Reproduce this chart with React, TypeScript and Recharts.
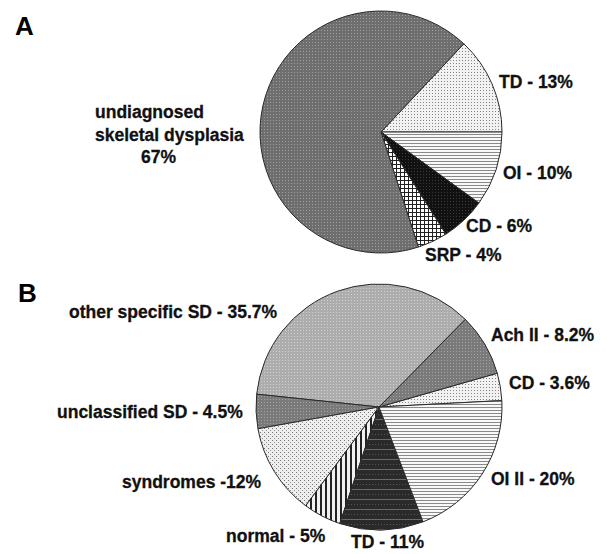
import React from 'react';
import { PieChart, Pie, Cell } from 'recharts';

// panel A
const aNames = ['TD', 'OI', 'CD', 'SRP', 'undiagnosed skeletal dysplasia'];
const aValues = [13, 10, 6, 4, 67];
const aLabels = [['TD - 13%'], ['OI - 10%'], ['CD - 6%'], ['SRP - 4%'], ['undiagnosed', 'skeletal dysplasia', '67%']];

// panel B
const bNames = ['CD', 'Ach II', 'other specific SD', 'unclassified SD', 'syndromes', 'normal', 'TD', 'OI II'];
const bValues = [3.6, 8.2, 35.7, 4.5, 12, 5, 11, 20];
const bLabels = [
  ['CD - 3.6%'],
  ['Ach II - 8.2%'],
  ['other specific SD - 35.7%'],
  ['unclassified SD - 4.5%'],
  ['syndromes -12%'],
  ['normal - 5%'],
  ['TD - 11%'],
  ['OI II - 20%'],
];

// label placement (left x, middle y for each line)
const aLabelPos = [[[499, 82]], [[503, 173]], [[466, 226]], [[425, 255]], [[95, 112], [95, 135], [141, 157]]];
const bLabelPos = [[[509, 383]], [[491, 335]], [[69, 312]], [[57, 412]], [[122, 482]], [[226, 536]], [[351, 542]], [[491, 479]]];

const aFills = ['pLightDots', 'pHLines', 'pBlack', 'pGrid', 'pDark'];
const bFills = ['pLightDots', 'pMidDark', 'pMid', 'pMidDark', 'pLightDots2', 'pVLines', 'pBands', 'pHLines'];

const aData = aNames.map((name, i) => ({ name, value: aValues[i] }));
const bData = bNames.map((name, i) => ({ name, value: bValues[i] }));

const font = '"Liberation Sans", Arial, sans-serif';

const makeLabel = (lines: string[][], pos: number[][][]) => (props: any) => {
  const i = props.index;
  return (
    <text
      key={i}
      fontFamily={font}
      fontWeight="bold"
      fontSize={17.5}
      fill="#111"
      stroke="#111"
      strokeWidth={0.3}
      textAnchor="start"
    >
      {lines[i].map((t, k) => (
        <tspan key={k} x={pos[i][k][0]} y={pos[i][k][1] + 6}>
          {t}
        </tspan>
      ))}
    </text>
  );
};

const App: React.FC = () => {
  return (
    <div style={{ position: 'absolute', left: 0, top: 0, width: 607, height: 554, background: '#fff' }}>
      <div style={{ position: 'absolute', left: 15, top: 11, fontFamily: font, fontWeight: 'bold', fontSize: 26 }}>A</div>
      <div style={{ position: 'absolute', left: 18, top: 278, fontFamily: font, fontWeight: 'bold', fontSize: 26 }}>B</div>
      <PieChart width={607} height={554} margin={{ top: 0, right: 0, bottom: 0, left: 0 }}>
        <defs>
          <pattern id="pDark" width="3" height="3" patternUnits="userSpaceOnUse">
            <rect width="3" height="3" fill="#6e6e6e" />
            <rect width="1" height="1" fill="#a0a0a0" />
          </pattern>
          <pattern id="pMid" width="3" height="3" patternUnits="userSpaceOnUse">
            <rect width="3" height="3" fill="#adadad" />
            <rect width="1" height="1" fill="#d2d2d2" />
          </pattern>
          <pattern id="pMidDark" width="3" height="3" patternUnits="userSpaceOnUse">
            <rect width="3" height="3" fill="#7a7a7a" />
            <rect width="1" height="1" fill="#a4a4a4" />
          </pattern>
          <pattern id="pLightDots" width="3" height="3" patternUnits="userSpaceOnUse">
            <rect width="3" height="3" fill="#f2f2f2" />
            <rect width="1" height="1" fill="#838383" />
          </pattern>
          <pattern id="pLightDots2" width="4" height="4" patternUnits="userSpaceOnUse">
            <rect width="4" height="4" fill="#eeeeee" />
            <rect width="1" height="1" fill="#707070" />
            <rect x="2" y="2" width="1" height="1" fill="#909090" />
          </pattern>
          <pattern id="pHLines" width="4" height="3" patternUnits="userSpaceOnUse">
            <rect width="4" height="3" fill="#f8f8f8" />
            <rect y="2" width="4" height="1" fill="#8a8a8a" />
          </pattern>
          <pattern id="pBlack" width="3" height="3" patternUnits="userSpaceOnUse">
            <rect width="3" height="3" fill="#111" />
            <rect width="1" height="1" fill="#3a3a3a" />
          </pattern>
          <pattern id="pGrid" width="4" height="4" patternUnits="userSpaceOnUse">
            <rect width="4" height="4" fill="#fff" />
            <rect width="4" height="1" fill="#222" />
            <rect width="1" height="4" fill="#222" />
          </pattern>
          <pattern id="pBands" width="3" height="10" patternUnits="userSpaceOnUse">
            <rect width="3" height="10" fill="#2a2a2a" />
            <rect width="1" height="1" y="4" fill="#555" />
            <rect y="9" width="3" height="1" fill="#6a6a6a" />
          </pattern>
          <pattern id="pVLines" width="5" height="4" patternUnits="userSpaceOnUse">
            <rect width="5" height="4" fill="#f0f0f0" />
            <rect width="2" height="4" fill="#222" />
          </pattern>
        </defs>
        <Pie
          data={aData}
          dataKey="value"
          nameKey="name"
          cx={381}
          cy={132}
          outerRadius={121}
          startAngle={46.8}
          endAngle={-313.2}
          stroke="#2a2a2a"
          strokeWidth={1}
          labelLine={false}
          label={makeLabel(aLabels, aLabelPos)}
          isAnimationActive={false}
        >
          {aData.map((d, i) => (
            <Cell key={d.name} fill={`url(#${aFills[i]})`} />
          ))}
        </Pie>
        <Pie
          data={bData}
          dataKey="value"
          nameKey="name"
          cx={379}
          cy={407}
          outerRadius={123}
          startAngle={3}
          endAngle={363}
          stroke="#2a2a2a"
          strokeWidth={1}
          labelLine={false}
          label={makeLabel(bLabels, bLabelPos)}
          isAnimationActive={false}
        >
          {bData.map((d, i) => (
            <Cell key={d.name} fill={`url(#${bFills[i]})`} />
          ))}
        </Pie>
      </PieChart>
    </div>
  );
};

export default App;
